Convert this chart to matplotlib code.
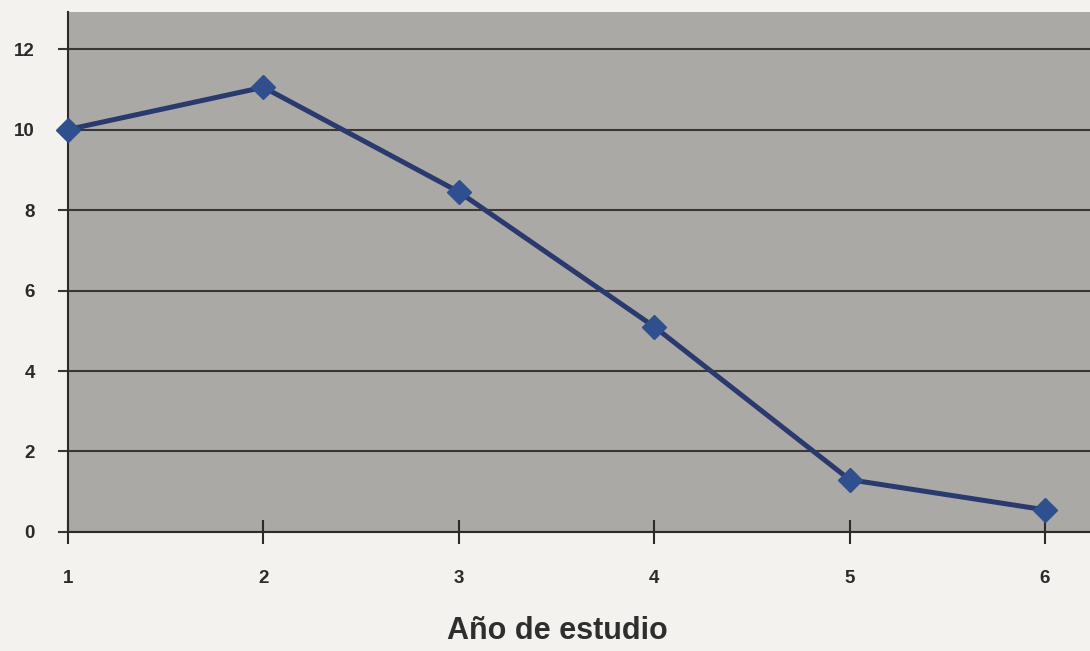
import matplotlib.pyplot as plt

# Año de estudio vs valor (línea con marcadores)
anios = [1, 2, 3, 4, 5, 6]
valores = [10.0, 11.05, 8.45, 5.1, 1.3, 0.55]
yticks = [0, 2, 4, 6, 8, 10, 12]

plt.rcParams["font.family"] = ["Liberation Sans", "DejaVu Sans"]

fig = plt.figure(figsize=(10.9, 6.51), dpi=100)
fig.patch.set_facecolor("#f3f2ef")
ax = fig.add_axes([0.0624, 0.1828, 0.9376, 0.7988])
ax.set_facecolor("#aaa9a6")

ax.plot(anios, valores, color="#2b3a6e", linewidth=3.6, marker="D",
        markersize=12, markerfacecolor="#2f4f8f", markeredgecolor="#2f4f8f",
        zorder=3, clip_on=False)

ax.set_xlim(1, 6.23)
ax.set_ylim(0, 12.92)
ax.set_xticks(anios)
ax.set_yticks(yticks)
ax.yaxis.grid(True, color="#3b3631", linewidth=1.5)
ax.set_axisbelow(True)

for side in ("top", "right"):
    ax.spines[side].set_visible(False)
ax.spines["left"].set_color("#2e2a27")
ax.spines["left"].set_linewidth(1.5)
ax.spines["bottom"].set_color("#2e2a27")
ax.spines["bottom"].set_linewidth(1.5)

ax.tick_params(axis="x", direction="inout", length=17, width=1.5,
               color="#2e2a27", pad=19, labelsize=13.5, labelcolor="#2b2b2b")
ax.tick_params(axis="y", direction="out", length=7, width=1.5,
               color="#3b3631", pad=17, labelsize=13.5, labelcolor="#2b2b2b")
for lbl in ax.get_xticklabels() + ax.get_yticklabels():
    lbl.set_fontweight("bold")

fig.text(0.511, 0.018, "Año de estudio", ha="center", va="baseline",
         fontsize=22, fontweight="bold", color="#2e2e2e")

fig.savefig("out.png", dpi=100, facecolor=fig.get_facecolor())
